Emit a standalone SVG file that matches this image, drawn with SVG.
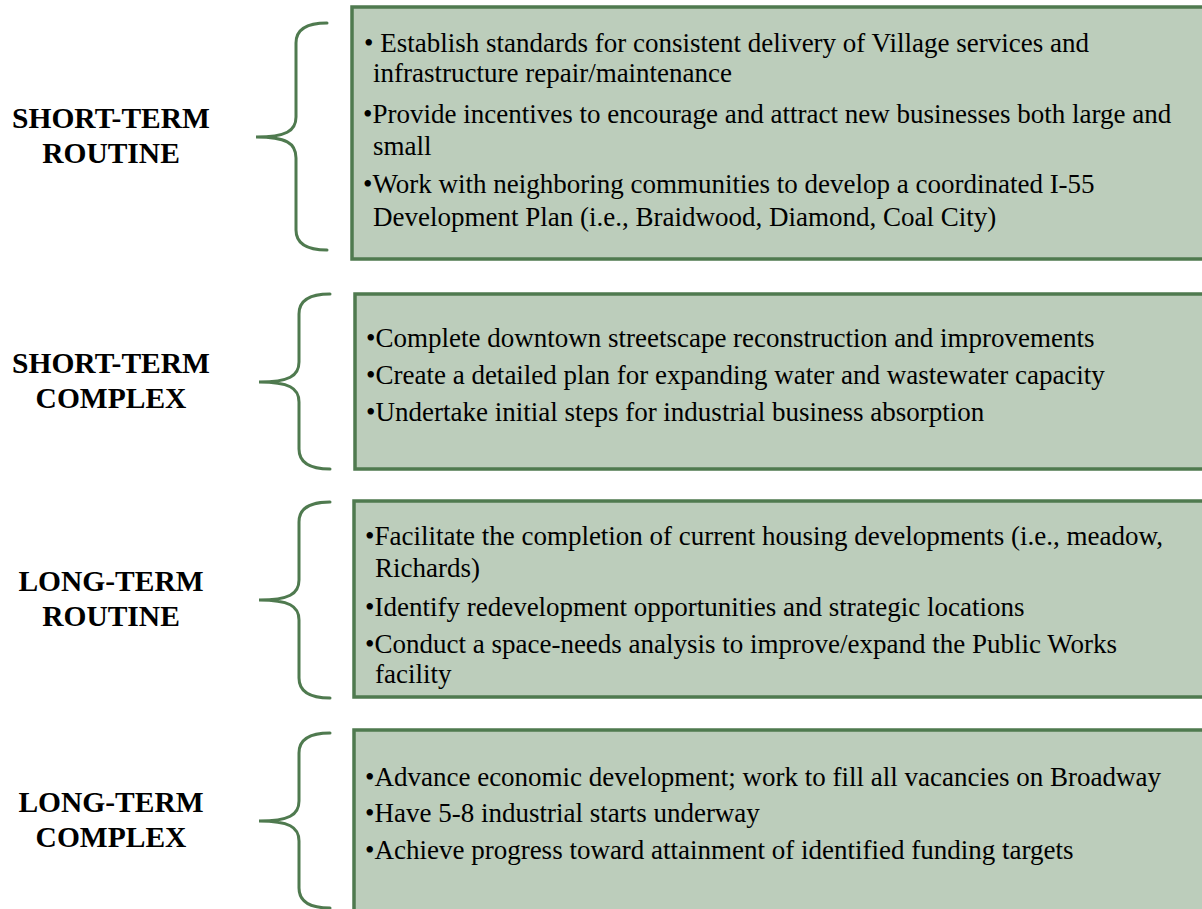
<svg xmlns="http://www.w3.org/2000/svg" width="1202" height="909" viewBox="0 0 1202 909">
<style>
.box{fill:#bccdbb;stroke:#4f7a4f;stroke-width:3.5}
.brace{fill:none;stroke:#4f7a4f;stroke-width:3;stroke-linecap:round}
.lbl{font-family:"Liberation Serif",serif;font-weight:bold;font-size:29.5px;fill:#000;text-anchor:middle}
.t{font-family:"Liberation Serif",serif;font-size:27px;fill:#000}
</style>
<rect width="1202" height="909" fill="#fff"/>
<g id="connectors">
<path class="brace" d="M327,23 Q296,23 296,43 L296,117 C296,131 286,137 256,137 C286,137 296,143 296,158 L296,230 Q296,250 327,250"/>
<path class="brace" d="M330,294 Q299,294 299,314 L299,362 C299,376 289,382 259,382 C289,382 299,388 299,402 L299,449 Q299,469 330,469"/>
<path class="brace" d="M330,502 Q299,502 299,522 L299,580 C299,594 289,600 259,600 C289,600 299,606 299,620 L299,678 Q299,698 330,698"/>
<path class="brace" d="M330,733 Q299,733 299,753 L299,801 C299,815 289,821 259,821 C289,821 299,827 299,841 L299,888 Q299,908 330,908"/>
</g>
<g id="label1"><text class="lbl" x="111" y="128">SHORT-TERM</text><text class="lbl" x="111" y="163">ROUTINE</text></g>
<g id="label2"><text class="lbl" x="111" y="373">SHORT-TERM</text><text class="lbl" x="111" y="408">COMPLEX</text></g>
<g id="label3"><text class="lbl" x="111" y="591">LONG-TERM</text><text class="lbl" x="111" y="626">ROUTINE</text></g>
<g id="label4"><text class="lbl" x="111" y="812">LONG-TERM</text><text class="lbl" x="111" y="847">COMPLEX</text></g>
<g id="box1">
<rect class="box" x="352" y="7" width="870" height="252"/>
<text class="t" x="364" y="52">• Establish standards for consistent delivery of Village services and</text>
<text class="t" x="373" y="82">infrastructure repair/maintenance</text>
<text class="t" x="363" y="123">•Provide incentives to encourage and attract new businesses both large and</text>
<text class="t" x="373" y="155">small</text>
<text class="t" x="363" y="193">•Work with neighboring communities to develop a coordinated I-55</text>
<text class="t" x="373" y="226">Development Plan (i.e., Braidwood, Diamond, Coal City)</text>
</g>
<g id="box2">
<rect class="box" x="355" y="294" width="870" height="175"/>
<text class="t" x="366" y="347">•Complete downtown streetscape reconstruction and improvements</text>
<text class="t" x="366" y="384">•Create a detailed plan for expanding water and wastewater capacity</text>
<text class="t" x="366" y="421">•Undertake initial steps for industrial business absorption</text>
</g>
<g id="box3">
<rect class="box" x="354" y="501" width="870" height="196"/>
<text class="t" x="365" y="545">•Facilitate the completion of current housing developments (i.e., meadow,</text>
<text class="t" x="375" y="577">Richards)</text>
<text class="t" x="365" y="616">•Identify redevelopment opportunities and strategic locations</text>
<text class="t" x="365" y="653">•Conduct a space-needs analysis to improve/expand the Public Works</text>
<text class="t" x="375" y="683">facility</text>
</g>
<g id="box4">
<rect class="box" x="354" y="730" width="870" height="200"/>
<text class="t" x="365" y="786">•Advance economic development; work to fill all vacancies on Broadway</text>
<text class="t" x="365" y="822">•Have 5-8 industrial starts underway</text>
<text class="t" x="365" y="859">•Achieve progress toward attainment of identified funding targets</text>
</g>
</svg>
